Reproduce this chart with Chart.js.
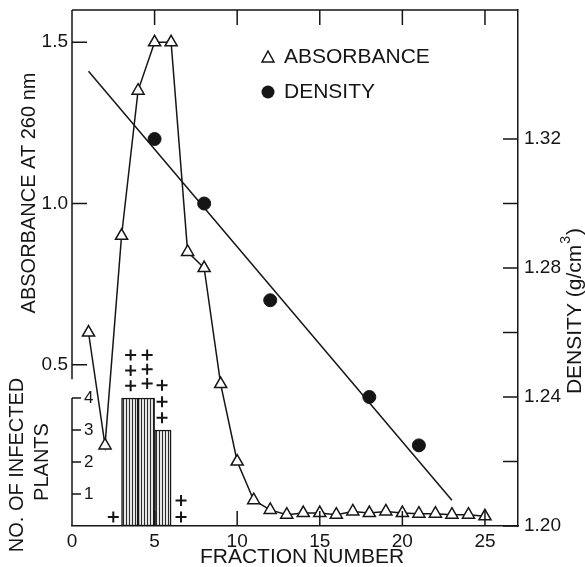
<!DOCTYPE html>
<html>
<head>
<meta charset="utf-8">
<title>Absorbance and density of gradient fractions</title>
<script src="https://cdn.jsdelivr.net/npm/chart.js@4.4.1/dist/chart.umd.min.js"></script>
<style>
  html, body { margin: 0; padding: 0; background: #fff; }
  canvas { display: block; }
</style>
</head>
<body>
<canvas id="chart" width="585" height="567"></canvas>
<script>
// fraction numbers and absorbance at 260 nm
const fractions = [1, 2, 3, 4, 5, 6, 7, 8, 9, 10, 11, 12, 13, 14, 15, 16, 17, 18, 19, 20, 21, 22, 23, 24, 25];
const absorbance = [0.60, 0.25, 0.90, 1.35, 1.50, 1.50, 0.85, 0.80, 0.44, 0.20, 0.08, 0.05, 0.035,
  0.04, 0.04, 0.035, 0.045, 0.04, 0.045, 0.04, 0.038, 0.038, 0.035, 0.035, 0.03];

// density (g/cm3)
const densityFractions = [5, 8, 12, 18, 21];
const density = [1.32, 1.30, 1.27, 1.24, 1.225];
const fitFractions = [1, 23];
const fitDensity = [1.341, 1.208];

// infected plants (inset bars) and the "+" marks
const barFractions = [3.5, 4.5, 5.5];
const infectedPlants = [4, 4, 3];
const plusFractions = [2.5, 3.55, 3.55, 3.55, 4.55, 4.55, 4.55, 5.45, 5.45, 5.45, 6.6, 6.6];
const plusLevels = [0.28, 4.38, 4.86, 5.34, 4.45, 4.9, 5.34, 3.38, 3.88, 4.4, 0.28, 0.8];

// tick labels
const fractionTicks = [0, 5, 10, 15, 20, 25];
const absTicks = [0.5, 1.0, 1.5];
const plantTicks = [1, 2, 3, 4];
const densityTicks = [1.20, 1.22, 1.24, 1.26, 1.28, 1.30, 1.32];

const ink = "#151515";
const family = "'Liberation Sans', Arial, sans-serif";

function toPoints(xs, ys) {
  return xs.map((x, i) => ({ x: x, y: ys[i] }));
}

function stripePattern() {
  const c = document.createElement("canvas");
  c.width = 3;
  c.height = 4;
  const g = c.getContext("2d");
  g.fillStyle = "#e6e6e6";
  g.fillRect(0, 0, 3, 4);
  g.fillStyle = "#2a2a2a";
  g.fillRect(0, 0, 1, 4);
  return g.createPattern(c, "repeat");
}

function setTicks(values) {
  return function (scale) {
    scale.ticks = values.map((v) => ({ value: v }));
  };
}

function fixBox(w, h) {
  return function (scale) {
    if (w !== null) scale.width = w;
    if (h !== null) scale.height = h;
    scale.paddingTop = 0;
    scale.paddingBottom = 0;
    scale.paddingLeft = 0;
    scale.paddingRight = 0;
  };
}

const frameAndText = {
  id: "frameAndText",
  afterDraw(chart) {
    const { ctx, chartArea: a, scales } = chart;
    ctx.save();
    ctx.strokeStyle = ink;
    ctx.lineWidth = 1.5;
    ctx.beginPath();
    // top frame
    ctx.moveTo(a.left, a.top);
    ctx.lineTo(a.right, a.top);
    // left absorbance axis stops above the inset
    ctx.moveTo(a.left, a.top);
    ctx.lineTo(a.left, scales.y.getPixelForValue(0.455));
    // inset axis
    ctx.moveTo(a.left, scales.y3.getPixelForValue(4));
    ctx.lineTo(a.left, a.bottom);
    // inward ticks
    scales.x.ticks.forEach((t) => {
      const px = scales.x.getPixelForValue(t.value);
      ctx.moveTo(px, a.bottom);
      ctx.lineTo(px, a.bottom - 15);
      ctx.moveTo(px, a.top);
      ctx.lineTo(px, a.top + 15);
    });
    scales.y.ticks.forEach((t) => {
      const py = scales.y.getPixelForValue(t.value);
      ctx.moveTo(a.left, py);
      ctx.lineTo(a.left + 15, py);
    });
    scales.y3.ticks.forEach((t) => {
      const py = scales.y3.getPixelForValue(t.value);
      ctx.moveTo(a.left, py);
      ctx.lineTo(a.left + 9, py);
    });
    scales.y2.ticks.forEach((t) => {
      const py = scales.y2.getPixelForValue(t.value);
      ctx.moveTo(a.right, py);
      ctx.lineTo(a.right - 15, py);
    });
    ctx.stroke();

    ctx.fillStyle = ink;
    ctx.textBaseline = "middle";
    ctx.textAlign = "center";

    // x title
    ctx.font = "21px " + family;
    ctx.fillText("FRACTION NUMBER", 302, 557);

    // left title
    ctx.save();
    ctx.translate(29, 193);
    ctx.rotate(-Math.PI / 2);
    ctx.font = "20px " + family;
    ctx.fillText("ABSORBANCE AT 260 nm", 0, 0);
    ctx.restore();

    // inset title
    ctx.save();
    ctx.translate(17, 465);
    ctx.rotate(-Math.PI / 2);
    ctx.font = "20px " + family;
    ctx.fillText("NO. OF INFECTED", 0, 0);
    ctx.restore();
    ctx.save();
    ctx.translate(42, 462);
    ctx.rotate(-Math.PI / 2);
    ctx.font = "20px " + family;
    ctx.fillText("PLANTS", 0, 0);
    ctx.restore();

    // right title with superscript
    ctx.save();
    ctx.translate(575, 312);
    ctx.rotate(-Math.PI / 2);
    ctx.textAlign = "left";
    ctx.font = "21px " + family;
    const p1 = "DENSITY (g/cm";
    const p3 = ")";
    const w1 = ctx.measureText(p1).width;
    const w3 = ctx.measureText(p3).width;
    ctx.font = "14px " + family;
    const w2 = ctx.measureText("3").width;
    let x0 = -(w1 + w2 + w3) / 2;
    ctx.font = "21px " + family;
    ctx.fillText(p1, x0, 0);
    ctx.font = "14px " + family;
    ctx.fillText("3", x0 + w1 + 1, -9);
    ctx.font = "21px " + family;
    ctx.fillText(p3, x0 + w1 + w2 + 2, 0);
    ctx.restore();

    // legend
    ctx.textAlign = "left";
    ctx.font = "21px " + family;
    ctx.lineWidth = 1.5;
    ctx.beginPath();
    ctx.moveTo(268, 51);
    ctx.lineTo(274, 62);
    ctx.lineTo(262, 62);
    ctx.closePath();
    ctx.stroke();
    ctx.fillText("ABSORBANCE", 284, 57);
    ctx.beginPath();
    ctx.arc(268, 92, 6.5, 0, Math.PI * 2);
    ctx.fill();
    ctx.fillText("DENSITY", 284, 92);
    ctx.restore();
  },
};

const tickFont = { family: family, size: 19 };

new Chart(document.getElementById("chart"), {
  type: "line",
  data: {
    datasets: [
      {
        label: "ABSORBANCE",
        type: "line",
        data: toPoints(fractions, absorbance),
        xAxisID: "x",
        yAxisID: "y",
        borderColor: ink,
        borderWidth: 1.5,
        tension: 0,
        pointStyle: "triangle",
        pointRadius: 7,
        pointBackgroundColor: "#fff",
        pointBorderColor: ink,
        pointBorderWidth: 1.5,
      },
      {
        label: "DENSITY",
        type: "scatter",
        data: toPoints(densityFractions, density),
        xAxisID: "x",
        yAxisID: "y2",
        pointRadius: 6.5,
        pointBackgroundColor: ink,
        pointBorderColor: ink,
        showLine: false,
      },
      {
        label: "DENSITY FIT",
        type: "line",
        data: toPoints(fitFractions, fitDensity),
        xAxisID: "x",
        yAxisID: "y2",
        borderColor: ink,
        borderWidth: 1.5,
        pointRadius: 0,
      },
      {
        label: "INFECTION",
        type: "scatter",
        data: toPoints(plusFractions, plusLevels),
        xAxisID: "x",
        yAxisID: "y3",
        pointStyle: "cross",
        pointRadius: 5.5,
        pointBorderColor: ink,
        pointBorderWidth: 2,
        showLine: false,
      },
      {
        label: "NO. OF INFECTED PLANTS",
        type: "bar",
        data: toPoints(barFractions, infectedPlants),
        xAxisID: "x",
        yAxisID: "y3",
        backgroundColor: stripePattern(),
        borderColor: ink,
        borderWidth: 1.5,
        borderSkipped: false,
        barPercentage: 1,
        categoryPercentage: 1,
      },
    ],
  },
  options: {
    responsive: false,
    animation: false,
    events: [],
    layout: { padding: { top: 10, left: 0, right: 0, bottom: 0 } },
    plugins: { legend: { display: false }, tooltip: { enabled: false } },
    scales: {
      x: {
        type: "linear",
        position: "bottom",
        offset: false,
        min: 0,
        max: 27,
        afterBuildTicks: setTicks(fractionTicks),
        afterFit: fixBox(null, 41),
        grid: { display: true, offset: false, drawOnChartArea: false, drawTicks: false },
        border: { display: true, color: ink, width: 1.5 },
        ticks: { color: ink, font: tickFont, padding: 4, maxRotation: 0 },
      },
      y: {
        type: "linear",
        position: "left",
        weight: 1,
        min: 0,
        max: 1.6,
        afterBuildTicks: setTicks(absTicks),
        afterFit: fixBox(72, null),
        grid: { display: true, drawOnChartArea: false, drawTicks: false },
        border: { display: false },
        ticks: { color: ink, font: tickFont, padding: 4, callback: (v) => v.toFixed(1) },
      },
      y3: {
        type: "linear",
        position: "left",
        weight: 0,
        min: 0,
        max: 16.125,
        afterBuildTicks: setTicks(plantTicks),
        afterFit: fixBox(0, null),
        grid: { display: true, drawOnChartArea: false, drawTicks: false },
        border: { display: false },
        ticks: { color: ink, font: { family: family, size: 17 }, mirror: true, padding: 12 },
      },
      y2: {
        type: "linear",
        position: "right",
        min: 1.2,
        max: 1.36,
        afterBuildTicks: setTicks(densityTicks),
        afterFit: fixBox(67, null),
        grid: { display: true, drawOnChartArea: false, drawTicks: false },
        border: { display: true, color: ink, width: 1.5 },
        ticks: {
          color: ink,
          font: tickFont,
          padding: 6,
          callback: (v) => (Math.round(v * 100) % 4 === 0 ? v.toFixed(2) : ""),
        },
      },
    },
  },
  plugins: [frameAndText],
});
</script>
</body>
</html>
